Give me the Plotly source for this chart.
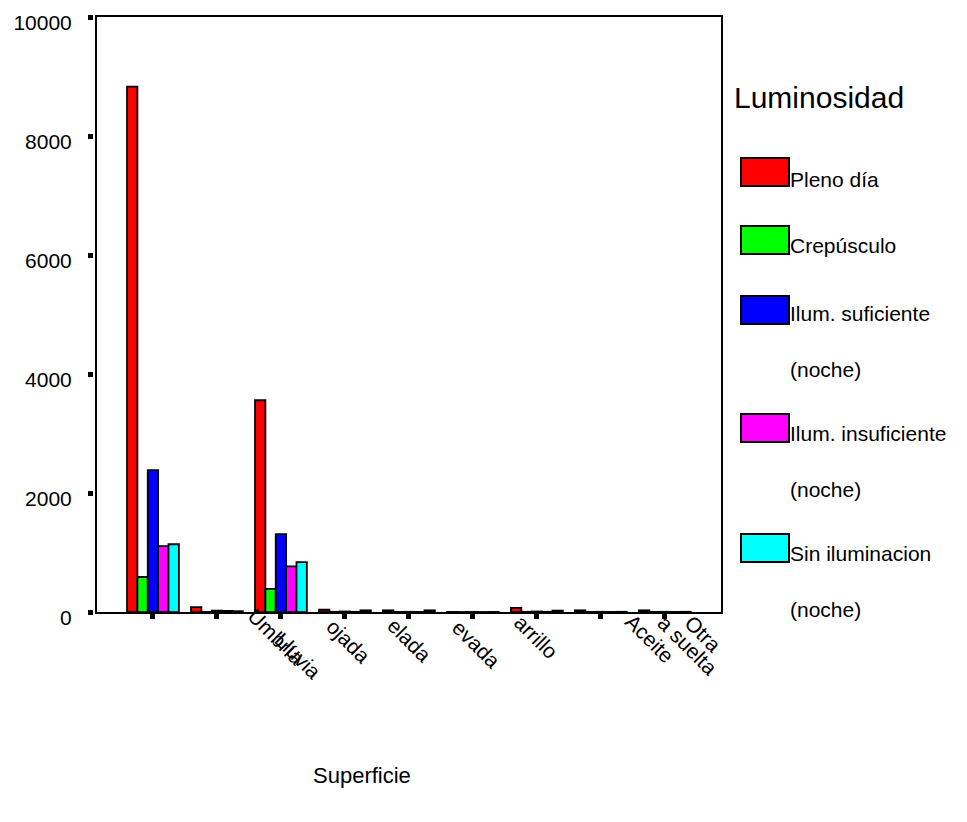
import plotly.graph_objects as go

# ---------------- data ----------------
categories = ["Seca y limpia", "Umbría", "Lluvia", "Mojada", "Helada",
              "Nevada", "Barrillo", "Gravilla suelta", "Aceite"]
series_names = ["Pleno día", "Crepúsculo", "Ilum. suficiente (noche)",
                "Ilum. insuficiente (noche)", "Sin iluminacion (noche)"]
pleno_dia = [8830, 85, 3560, 40, 30, 3, 70, 30, 30]
crepusculo = [590, 3, 390, 5, 3, 2, 5, 3, 3]
ilum_suf = [2385, 25, 1310, 10, 5, 3, 10, 5, 5]
ilum_insuf = [1110, 20, 770, 5, 3, 2, 5, 3, 3]
sin_ilum = [1140, 15, 840, 30, 30, 3, 25, 5, 5]
series_values = [pleno_dia, crepusculo, ilum_suf, ilum_insuf, sin_ilum]
colors = ["#FF0000", "#00FF00", "#0000FF", "#FF00FF", "#00FFFF"]

y_ticks = [0, 2000, 4000, 6000, 8000, 10000]
legend_title = "Luminosidad"
legend_lines = [["Pleno día"], ["Crepúsculo"], ["Ilum. suficiente", "(noche)"],
                ["Ilum. insuficiente", "(noche)"], ["Sin iluminacion", "(noche)"]]
# visible (partly hidden) category label fragments, as in the original
label_fragments = ["Umbría", "Lluvia", "ojada", "elada", "evada",
                   "arrillo", "Aceite", "a suelta", "Otra"]
x_title = "Superficie"

# ---------------- layout geometry ----------------
BODY = 8                      # default page margin of the html body
W, H = 967 - BODY, 822 - BODY
ML, MT = 93 - BODY, 16 - BODY
MR = W - (722 - BODY)
MB = H - (613 - BODY)
PW = W - ML - MR
PH = H - MT - MB
FONT = "Liberation Sans, Arial, sans-serif"


def px(x):
    """page pixel x -> paper coordinate"""
    return (x - BODY - ML) / PW


def py(y):
    """page pixel y -> paper coordinate"""
    return (H - MB - (y - BODY)) / PH


fig = go.Figure()
for name, vals, col in zip(series_names, series_values, colors):
    fig.add_trace(go.Bar(
        x=list(range(len(categories))), y=vals, name=name,
        marker=dict(color=col, line=dict(color="black", width=1.8)),
        showlegend=False,
        hovertext=categories,
    ))

fig.update_layout(
    width=W, height=H,
    margin=dict(l=ML, r=MR, t=MT, b=MB, autoexpand=False),
    paper_bgcolor="white", plot_bgcolor="white",
    barmode="group", bargap=0.19, bargroupgap=0.0,
    font=dict(family=FONT, color="black"),
    xaxis=dict(domain=[3 / PW, 1], range=[-0.89, 8.893], automargin=False,
               tickmode="array", tickvals=list(range(len(categories))),
               showticklabels=False, ticks="outside", ticklen=5, tickwidth=5,
               tickcolor="black", showgrid=False, zeroline=False, showline=False),
    yaxis=dict(anchor="free", position=0, range=[-15, 10018], automargin=False,
               tickmode="array", tickvals=y_ticks,
               ticktext=[str(v) for v in y_ticks],
               ticks="outside", ticklen=5, tickwidth=5, tickcolor="black",
               tickfont=dict(size=21, family=FONT), ticklabelstandoff=12,
               ticklabelshift=6, ticklabeloverflow="allow",
               showgrid=False, zeroline=False, showline=False),
)

# frame around plot area
fig.add_shape(type="rect", xref="x domain", yref="y domain",
              x0=0, x1=1, y0=0, y1=1, line=dict(color="black", width=2),
              layer="above")

# category label fragments
frag_pos = [(276, 636), (298, 655), (349, 641), (410, 640), (477, 644),
            (536, 636), (650, 638), (688, 645), (703, 633)]
for txt, (cx, cy) in zip(label_fragments, frag_pos):
    fig.add_annotation(x=px(cx), y=py(cy), xref="paper", yref="paper",
                       text=txt, showarrow=False, textangle=45,
                       xanchor="center", yanchor="middle",
                       font=dict(size=21, family=FONT, color="black"))

# x axis title
fig.add_annotation(x=px(362), y=py(776), xref="paper", yref="paper",
                   text=x_title, showarrow=False, xanchor="center",
                   yanchor="middle", font=dict(size=22, family=FONT))

# manual legend
fig.add_annotation(x=px(732), y=py(97), xref="paper", yref="paper",
                   text=legend_title, showarrow=False, xanchor="left",
                   yanchor="middle", font=dict(size=30, family=FONT))
sw_centers = [172, 240, 310, 428, 548]
txt_first = [179, 246, 313, 433, 553]
line_gap = 56
for lines, col, sc, tc in zip(legend_lines, colors, sw_centers, txt_first):
    fig.add_shape(type="rect", xref="paper", yref="paper",
                  x0=px(741), x1=px(789), y0=py(sc + 14), y1=py(sc - 14),
                  fillcolor=col, line=dict(color="black", width=2))
    for k, ln in enumerate(lines):
        fig.add_annotation(x=px(788), y=py(tc + k * line_gap),
                           xref="paper", yref="paper", text=ln,
                           showarrow=False, xanchor="left", yanchor="middle",
                           font=dict(size=21, family=FONT))

fig.write_html("out.html")
